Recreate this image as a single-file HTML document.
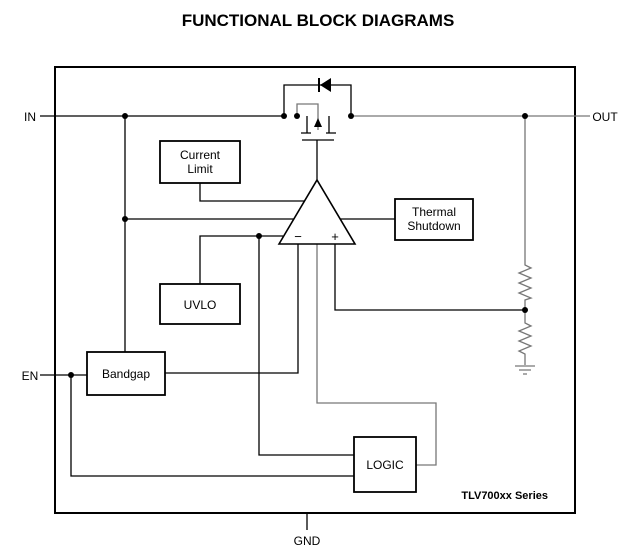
<!DOCTYPE html>
<html><head><style>body{margin:0;background:#fff}svg{display:block}</style></head><body>
<svg width="636" height="558" viewBox="0 0 636 558" xmlns="http://www.w3.org/2000/svg" font-family="Liberation Sans, sans-serif">
<text x="318" y="26" text-anchor="middle" font-size="17" font-weight="bold">FUNCTIONAL BLOCK DIAGRAMS</text>
<rect x="55" y="67" width="520" height="446" fill="none" stroke="#000" stroke-width="2"/>
<g stroke="#000" stroke-width="1.3" fill="none">
<path d="M40 116H284"/>
<path d="M284 116V85H351V116"/>
<path d="M307 116V133M329 116V133M301 133H311M326 133H336M302 140H334M317 140V180"/>
<path d="M125 116V352M125 219H294"/>
<path d="M200 183V201H305"/>
<path d="M340 219H395"/>
<path d="M200 284V236H283"/>
<path d="M259 236V455H354"/>
<path d="M298 244V373H165"/>
<path d="M335 244V310H525"/>
<path d="M40 375H87M71 375V476H354"/>
<path d="M307 513V530"/>
</g>
<g stroke="#777" stroke-width="1.3" fill="none">
<path d="M351 116H590"/>
<path d="M297 116V104H318V130"/>
<path d="M317 244V403H436V465H416"/>
<path d="M525 116V265l6 3l-12 5l12 5l-12 5l12 5l-12 5l12 5l-6 2V323l6 3l-12 5l12 5l-12 5l12 5l-12 5l6 3V365M515 366H535M519 370H531M523 374H527"/>
</g>
<path d="M279 244L317 180L355 244Z" stroke="#000" stroke-width="1.6" fill="none"/>
<polygon points="318,118 314,127 322,127" fill="#000"/>
<polygon points="320,85 331,78 331,92" fill="#000"/>
<path d="M319 78V92" stroke="#000" stroke-width="2"/>
<g fill="#000">
<circle cx="284" cy="116" r="3"/><circle cx="297" cy="116" r="3"/><circle cx="351" cy="116" r="3"/>
<circle cx="125" cy="116" r="3"/><circle cx="525" cy="116" r="3"/><circle cx="125" cy="219" r="3"/>
<circle cx="259" cy="236" r="3"/><circle cx="71" cy="375" r="3"/><circle cx="525" cy="310" r="3"/>
</g>
<g fill="#fff" stroke="#000" stroke-width="1.8">
<rect x="160" y="141" width="80" height="42"/>
<rect x="395" y="199" width="78" height="41"/>
<rect x="160" y="284" width="80" height="40"/>
<rect x="87" y="352" width="78" height="43"/>
<rect x="354" y="437" width="62" height="55"/>
</g>
<g font-size="12" text-anchor="middle">
<text x="200" y="159">Current</text><text x="200" y="173">Limit</text>
<text x="434" y="216">Thermal</text><text x="434" y="230">Shutdown</text>
<text x="200" y="309">UVLO</text>
<text x="126" y="378">Bandgap</text>
<text x="385" y="469">LOGIC</text>
<text x="30" y="121">IN</text><text x="30" y="380">EN</text>
<text x="605" y="121">OUT</text><text x="307" y="545">GND</text>
<text x="298" y="241" font-size="13">−</text><text x="335" y="241" font-size="13">+</text>
</g>
<text x="548" y="499" text-anchor="end" font-size="11" font-weight="bold">TLV700xx Series</text>
</svg>
</body></html>
